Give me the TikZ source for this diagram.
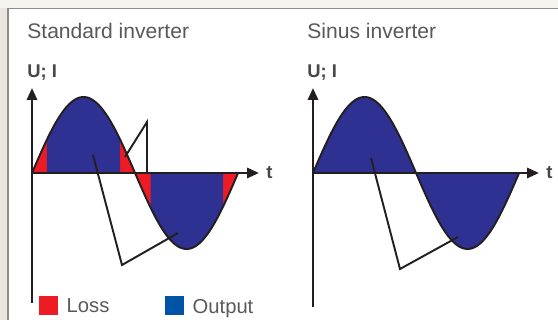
\documentclass[tikz,border=0pt]{standalone}
\usepackage{fontspec}
\setmainfont{Liberation Sans}
\usetikzlibrary{arrows.meta,positioning}
\definecolor{lossred}{RGB}{237,28,36}
\definecolor{outblue}{RGB}{46,49,146}
\definecolor{legblue}{RGB}{0,84,166}
\definecolor{txtgrey}{RGB}{88,89,91}
\definecolor{framebg}{RGB}{233,231,221}
\definecolor{frametop}{RGB}{245,244,238}
\definecolor{frameline}{RGB}{140,140,140}
\definecolor{inkblack}{RGB}{35,31,32}

\begin{document}
\begin{tikzpicture}[x=0.02cm, y=-0.02cm,
    title/.style={anchor=base west, inner sep=0pt, text=txtgrey,
                  font=\fontsize{12}{14}\selectfont},
    axlbl/.style={inner sep=0pt, text=txtgrey!80!black,
                  font=\fontsize{10.5}{12}\selectfont\bfseries},
    ax/.style={line width=1.4pt, color=inkblack,
               -{Triangle[length=6.8pt,width=5.8pt]}},
    wave/.style={line width=1.1pt, color=inkblack, line join=round},
    lead/.style={line width=1.1pt, color=inkblack, line join=miter},
    lossfill/.style={fill=lossred},
    outfill/.style={fill=outblue},
    legsq/.style={minimum size=0.38cm, inner sep=0pt},
    legtxt/.style={inner sep=0pt, text depth=0pt, text=txtgrey,
                   font=\fontsize{11.5}{13}\selectfont}
  ]
  \useasboundingbox (0,0) rectangle (558,320);
  \fill[frametop] (0,0) rectangle (558,8);
  \fill[framebg] (0,8) rectangle (8,320);
  \draw[frameline, line width=1.1pt] (8,320) -- (8,8.5) -- (558,8.5);

  \begin{scope}[shift={(32,173)}]
    \fill[lossfill] (0,0) -- plot[domain=0:360,samples=91] ({\x*0.5725},{-76*sin(\x)}) -- cycle;
    \fill[outfill] ({26*0.5725},0) -- plot[domain=26:154,samples=40] ({\x*0.5725},{-76*sin(\x)})
      -- ({154*0.5725},0) -- cycle;
    \fill[outfill] ({207*0.5725},0) -- plot[domain=207:334,samples=40] ({\x*0.5725},{-76*sin(\x)})
      -- ({334*0.5725},0) -- cycle;
    \draw[wave] plot[domain=0:360,samples=91] ({\x*0.5725},{-76*sin(\x)});
    \coordinate (Lo) at (0,0);
    \coordinate (Lybot) at (0,130);
    \coordinate (Lytip) at (0,-85);
    \coordinate (Lxtip) at (227,0);
    \draw[ax] (Lybot) -- (Lytip);
    \draw[ax] (Lo) -- (Lxtip);
    \node[axlbl, right=0.14cm of Lxtip] (Lt) {t};
    \node[axlbl, anchor=base west] (Lui) at (-5,-95) {U; I};
    \node[title] (Ltitle) at (-5,-134) {Standard inverter};
    \coordinate (lossA) at (93,-16);
    \coordinate (lossB) at (115,-51);
    \coordinate (lossC) at (115,0);
    \coordinate (outA) at (61,-18);
    \coordinate (outB) at (90,92);
    \coordinate (outC) at (146,60);
    \draw[lead] (lossA) -- (lossB) -- (lossC);
    \draw[lead] (outA) -- (outB) -- (outC);
  \end{scope}

  \begin{scope}[shift={(313,173)}]
    \fill[outfill] (0,0) -- plot[domain=0:360,samples=91] ({\x*0.5725},{-76*sin(\x)}) -- cycle;
    \draw[wave] plot[domain=0:360,samples=91] ({\x*0.5725},{-76*sin(\x)});
    \coordinate (Ro) at (0,0);
    \coordinate (Rybot) at (0,134);
    \coordinate (Rytip) at (0,-85);
    \coordinate (Rxtip) at (226,0);
    \draw[ax] (Rybot) -- (Rytip);
    \draw[ax] (Ro) -- (Rxtip);
    \node[axlbl, right=0.14cm of Rxtip] (Rt) {t};
    \node[axlbl, anchor=base west] (Rui) at (-6,-95) {U; I};
    \node[title] (Rtitle) at (-6,-134) {Sinus inverter};
    \coordinate (sinA) at (58,-15);
    \coordinate (sinB) at (87,96);
    \coordinate (sinC) at (145,64);
    \draw[lead] (sinA) -- (sinB) -- (sinC);
  \end{scope}

  \node[legsq, fill=lossred] (losssq) at (48.5,306) {};
  \node[legtxt, right=0.16cm of losssq] (losstxt) {Loss};
  \node[legsq, fill=legblue] (outsq) at (174.5,306) {};
  \node[legtxt, right=0.16cm of outsq] (outtxt) {Output};
\end{tikzpicture}
\end{document}
